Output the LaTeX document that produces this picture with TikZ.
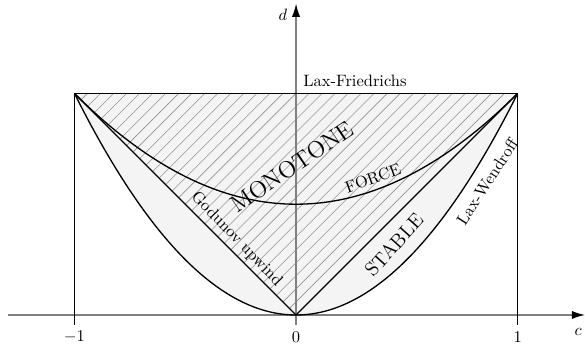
\documentclass[tikz,border=0pt]{standalone}
\usetikzlibrary{arrows.meta}
\definecolor{stablefill}{HTML}{F4F4F4}
\tikzset{
  axis/.style={draw=gray, line width=0.8pt, -{Latex[length=8pt,width=5pt,color=black]}},
  curve/.style={draw=black, line width=0.8pt},
  hatch/.style={draw=gray!85, line width=0.35pt},
  lbl/.style={inner sep=1pt, font=\normalsize},
  big/.style={inner sep=1pt, font=\Large},
  mid/.style={inner sep=1pt, font=\large},
}
\begin{document}
\begin{tikzpicture}[x=4.73cm,y=4.73cm]
\useasboundingbox (-1.336,-0.1354) rectangle (1.304,1.4215);
% stable region fill
\fill[stablefill] (-1,1) -- plot[domain=-1:1,samples=100,smooth] (\x,{\x*\x}) -- cycle;
% hatching of monotone region
\begin{scope}
  \clip (-1,1) -- (0,0) -- (1,1) -- cycle;
  \foreach \k in {0,...,52} \draw[hatch] ({-2+\k*0.0588},0) -- ++(2,2);
\end{scope}
% axes
\coordinate (xs) at (-1.30,0);
\coordinate (xe) at (1.304,0);
\coordinate (ys) at (0,-0.045);
\coordinate (ye) at (0,1.405);
\draw[axis] (xs) -- (xe);
\draw[axis] (ys) -- (ye);
% frame lines
\coordinate (tl) at (-1,1);
\coordinate (tr) at (1,1);
\coordinate (o) at (0,0);
\coordinate (bl) at (-1,-0.045);
\coordinate (br) at (1,-0.045);
\draw[curve] (tl) -- (tr);
\draw[curve] (tl) -- (bl);
\draw[curve] (tr) -- (br);
% Godunov upwind
\draw[curve] (tl) -- (o) -- (tr);
% Lax-Wendroff parabola
\draw[curve] plot[domain=-1:1,samples=100,smooth] (\x,{\x*\x});
% FORCE
\draw[curve] plot[domain=-1:1,samples=100,smooth] (\x,{(1+\x*\x)/2});
% tick labels
\node[lbl] (tm1) at (-1,-0.098) {$-1$};
\node[lbl] (t0) at (0,-0.098) {$0$};
\node[lbl] (t1) at (1,-0.098) {$1$};
\node[lbl] (lc) at (1.273,-0.077) {$c$};
\node[lbl] (ld) at (-0.059,1.354) {$d$};
% region / scheme labels
\node[lbl] (lf) at (0.266,1.056) {Lax-Friedrichs};
\node[big, rotate=34] (mono) at (-0.018,0.67) {MONOTONE};
\node[mid, rotate=48] (stab) at (0.442,0.316) {STABLE};
\node[lbl, rotate=20] (force) at (0.347,0.617) {FORCE};
\node[lbl, rotate=-46] (god) at (-0.268,0.342) {Godunov upwind};
\node[lbl, rotate=57] (lw) at (0.862,0.60) {Lax-Wendroff};
\end{tikzpicture}
\end{document}
